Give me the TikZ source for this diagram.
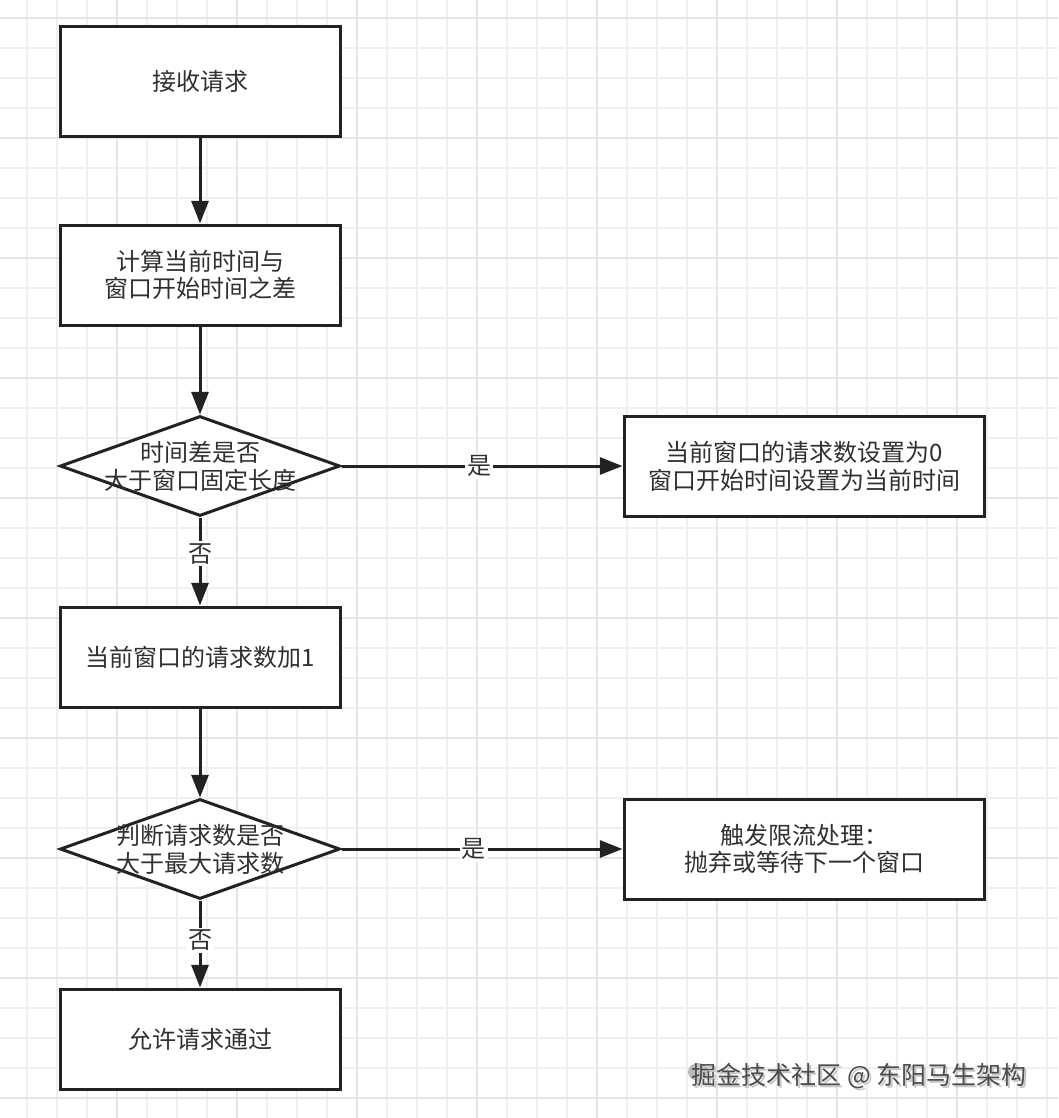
\documentclass[tikz,border=0pt]{standalone}
\usepackage{fontspec}
\setmainfont{Noto Sans CJK SC}
\usetikzlibrary{arrows.meta,shapes.geometric}
\definecolor{linec}{HTML}{222222}
\definecolor{textc}{HTML}{303030}
\definecolor{gridminor}{HTML}{EFEFEF}
\definecolor{gridmajor}{HTML}{E5E5E5}
\tikzset{
  stepbox/.style={draw=linec, line width=2.25pt, fill=white, rectangle,
    minimum width=210pt, minimum height=75pt, inner sep=0pt,
    text=textc, align=center, font=\fontsize{18pt}{20.25pt}\selectfont},
  widebox/.style={stepbox, minimum width=270pt},
  decbox/.style={draw=linec, line width=2.25pt, fill=white, diamond,
    minimum width=210pt, minimum height=75pt, inner sep=0pt},
  dectext/.style={text=textc, align=center, inner sep=0pt,
    font=\fontsize{18pt}{21pt}\selectfont},
  conn/.style={draw=linec, line width=2.25pt,
    -{Triangle[length=17pt, width=12.75pt]}},
  lbl/.style={fill=white, text=textc, inner sep=1.5pt,
    font=\fontsize{18pt}{20.25pt}\selectfont},
  gminor/.style={draw=gridminor, line width=0.8pt},
  gmajor/.style={draw=gridmajor, line width=1.2pt},
}
\begin{document}
\begin{tikzpicture}[x=0.75pt, y=-0.75pt]
\useasboundingbox (0,0) rectangle (1058,1118);
\fill[white] (0,0) rectangle (1058,1118);
% grid
\foreach \gx in {27,57,...,1047} \draw[gminor] (\gx,0) -- (\gx,1118);
\foreach \gy in {18,48,...,1098} \draw[gminor] (0,\gy) -- (1058,\gy);
\foreach \gx in {117,237,...,957} \draw[gmajor] (\gx,0) -- (\gx,1118);
\foreach \gy in {18,138,...,1098} \draw[gmajor] (0,\gy) -- (1058,\gy);

% nodes
\node[stepbox, minimum height=82.5pt] (n1) at (200,81) {接收请求};
\node[stepbox] (n2) at (200,275) {计算当前时间与\\窗口开始时间之差};
\node[decbox] (d1) at (200,466) {};
\node[dectext] (d1t) at (d1.center) {时间差是否\\大于窗口固定长度};
\node[widebox, font=\fontsize{18pt}{21pt}\selectfont] (r1) at (804,466) {当前窗口的请求数设置为0\\窗口开始时间设置为当前时间};
\node[stepbox] (n3) at (200,657) {当前窗口的请求数加1};
\node[decbox] (d2) at (200,849) {};
\node[dectext] (d2t) at (d2.center) {判断请求数是否\\大于最大请求数};
\node[widebox] (r2) at (804,849) {触发限流处理：\\抛弃或等待下一个窗口};
\node[stepbox] (n4) at (200,1039) {允许请求通过};

% connectors
\draw[conn] (n1) -- (n2);
\draw[conn] (n2) -- (d1);
\draw[conn] (d1.east) -- node[lbl, pos=0.49] (l1) {是} (r1.west);
\draw[conn] (d1.south) -- node[lbl, pos=0.41] (l2) {否} (n3.north);
\draw[conn] (n3) -- (d2);
\draw[conn] (d2.east) -- node[lbl, pos=0.47] (l3) {是} (r2.west);
\draw[conn] (d2.south) -- node[lbl, pos=0.46] (l4) {否} (n4.north);

% watermark
\fill[gray!55] (698,1072) ellipse (10 and 9);
\node[text=gray!45, font=\fontsize{18.75pt}{20pt}\selectfont] (wms) at (861,1078) {掘金技术社区 @ 东阳马生架构};
\node[text=black!70, font=\fontsize{18.75pt}{20pt}\selectfont] (wm) at (859,1076) {掘金技术社区 @ 东阳马生架构};
\end{tikzpicture}
\end{document}
